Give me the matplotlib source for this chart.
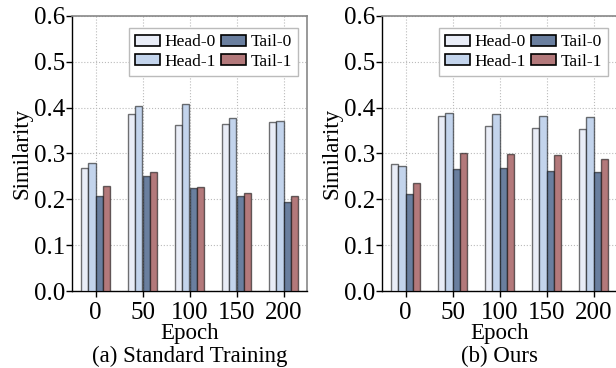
import matplotlib
matplotlib.use("Agg")
import matplotlib.pyplot as plt
import numpy as np

plt.rcParams['font.family'] = ['Liberation Serif', 'DejaVu Serif']
plt.rcParams['mathtext.fontset'] = 'stix'

epochs = ["0", "50", "100", "150", "200"]
series_names = ["Head-0", "Head-1", "Tail-0", "Tail-1"]
colors = ["#e9edf7", "#c3d4ec", "#6a7f9f", "#b3797b"]

std_head0 = [0.269, 0.386, 0.362, 0.364, 0.368]
std_head1 = [0.279, 0.404, 0.409, 0.377, 0.372]
std_tail0 = [0.207, 0.252, 0.224, 0.207, 0.194]
std_tail1 = [0.230, 0.260, 0.226, 0.213, 0.207]

ours_head0 = [0.277, 0.381, 0.359, 0.356, 0.353]
ours_head1 = [0.273, 0.388, 0.386, 0.382, 0.379]
ours_tail0 = [0.211, 0.266, 0.268, 0.261, 0.260]
ours_tail1 = [0.236, 0.302, 0.300, 0.296, 0.287]

panels = [
    ("(a) Standard Training", [std_head0, std_head1, std_tail0, std_tail1]),
    ("(b) Ours", [ours_head0, ours_head1, ours_tail0, ours_tail1]),
]

W, H = 616, 368
fig = plt.figure(figsize=(W / 100, H / 100), dpi=100)
lefts = [72, 382]
bottom_px, top_px = 291, 16
aw = 235

x = np.arange(len(epochs))
bw = 0.15
for (title, data), lp in zip(panels, lefts):
    ax = fig.add_axes([lp / W, (H - bottom_px) / H, aw / W, (bottom_px - top_px) / H])
    for i, (vals, name, c) in enumerate(zip(data, series_names, colors)):
        ax.bar(x + (i - 1.5) * bw, vals, bw, color=c, edgecolor=(0, 0, 0, 0.55),
               linewidth=1.0, label=name, zorder=3)
    ax.set_xlim(-0.5, 4.5)
    ax.set_ylim(0, 0.6)
    ax.set_yticks(np.arange(0, 0.61, 0.1))
    ax.set_yticklabels([f"{v:.1f}" for v in np.arange(0, 0.61, 0.1)])
    ax.set_xticks(x)
    ax.set_xticklabels(epochs)
    ax.tick_params(labelsize=18, length=4, width=1, pad=1)
    ax.tick_params(axis='x', pad=4)
    ax.grid(True, linestyle=':', color='#bbbbbb', linewidth=0.8, zorder=0)
    ax.set_axisbelow(True)
    for s in ['top', 'right']:
        ax.spines[s].set_color('#888888')
        ax.spines[s].set_linewidth(1.2)
    for s in ['left', 'bottom']:
        ax.spines[s].set_color('black')
        ax.spines[s].set_linewidth(1.0)
    ax.set_ylabel("Similarity", fontsize=16.5, labelpad=1)
    cx = (lp + aw / 2) / W
    fig.text(cx, 1 - 339 / H, "Epoch", ha='center', va='baseline', fontsize=16.5)
    fig.text(cx, 1 - 362 / H, title, ha='center', va='baseline', fontsize=16.5)
    leg = ax.legend(ncol=2, loc='upper right', bbox_to_anchor=(0.985, 0.975), fontsize=12.5,
                    frameon=True, fancybox=False, edgecolor='#bbbbbb', framealpha=1,
                    handlelength=1.4, handleheight=0.6, columnspacing=0.3,
                    handletextpad=0.3, labelspacing=0.2, borderpad=0.35, borderaxespad=0.3)
    for h in leg.legend_handles:
        h.set_edgecolor('black')
        h.set_linewidth(1.2)

fig.savefig("out.png", dpi=100)
